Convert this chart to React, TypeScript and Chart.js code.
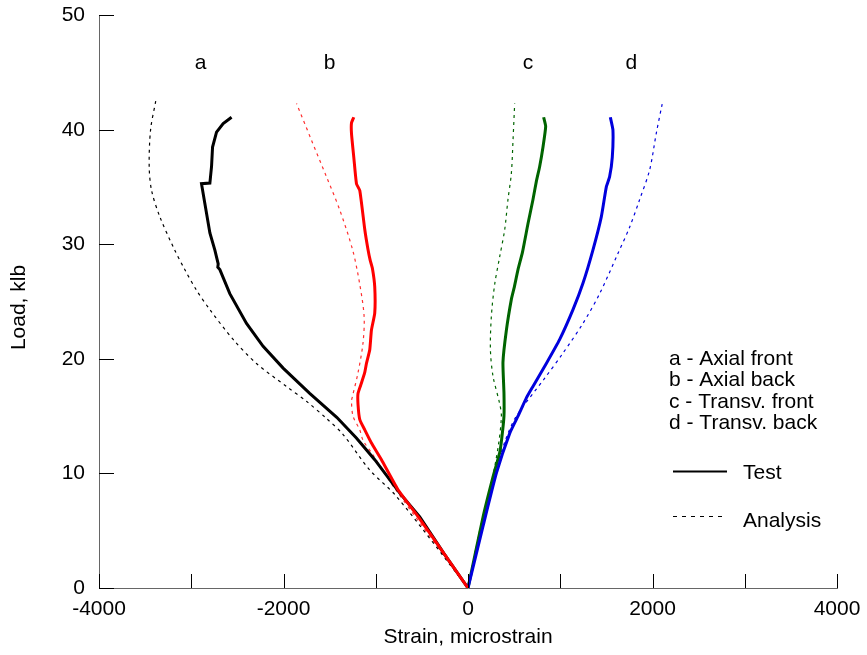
import React, { useEffect, useRef } from 'react';
import { Chart, registerables } from 'chart.js';

Chart.register(...registerables);

// ---- Data (strain in microstrain, load in klb) ----
const aTestX = [0, -260, -523, -741, -1011, -1210, -1423, -1716, -2004, -2221, -2401, -2582, -2690, -2712, -2708, -2744, -2798, -2853, -2889, -2798, -2790, -2780, -2769, -2726, -2654, -2563];
const aTestY = [0, 3.0, 6.2, 8.3, 11.2, 13.1, 14.9, 17.0, 19.2, 21.1, 23.1, 25.7, 27.8, 28.0, 28.3, 29.5, 31.0, 33.6, 35.3, 35.35, 36.0, 36.8, 38.5, 39.8, 40.55, 41.1];

const aAnaX = [0, -776, -1065, -1354, -1534, -1751, -1968, -2293, -2546, -2798, -2943, -3070, -3185, -3340, -3430, -3456, -3441, -3383];
const aAnaY = [0, 8.0, 10.3, 13.4, 14.8, 16.3, 17.6, 19.6, 21.7, 24.3, 26.0, 27.8, 29.6, 32.4, 34.7, 36.8, 40.0, 42.6];

const bTestX = [0, -260, -520, -760, -938, -1050, -1119, -1173, -1192, -1192, -1155, -1120, -1101, -1065, -1047, -1011, -1011, -1036, -1060, -1085, -1119, -1173, -1209, -1238, -1263, -1263, -1238];
const bTestY = [0, 3.0, 6.0, 8.6, 11.2, 12.7, 13.8, 14.7, 16.0, 17.0, 17.9, 18.8, 19.6, 20.8, 22.5, 24.0, 26.3, 27.9, 28.6, 29.6, 31.3, 34.7, 35.3, 37.6, 39.7, 40.6, 41.1];

const bAnaX = [0, -812, -1029, -1138, -1173, -1246, -1263, -1253, -1192, -1138, -1126, -1173, -1250, -1390, -1534, -1697, -1859];
const bAnaY = [0, 8.9, 11.6, 12.9, 13.8, 15.0, 16.3, 16.7, 18.8, 21.4, 23.7, 26.5, 29.5, 33.0, 35.9, 39.1, 42.3];

const cTestX = [0, 163, 271, 343, 365, 390, 390, 379, 416, 470, 500, 542, 590, 650, 704, 741, 777, 813, 842, 820];
const cTestY = [0, 6.2, 9.7, 11.8, 13.0, 15.0, 17.0, 19.7, 22.5, 25.2, 26.2, 27.8, 29.3, 31.8, 33.9, 35.5, 36.8, 38.5, 40.3, 41.1];

const cAnaX = [0, 140, 250, 330, 362, 343, 271, 243, 253, 289, 343, 398, 433, 470, 488, 506];
const cAnaY = [0, 5.5, 9.0, 12.5, 15.0, 16.1, 18.5, 20.8, 23.7, 26.5, 28.9, 31.3, 33.9, 36.2, 39.1, 42.3];

const dTestX = [0, 163, 307, 452, 542, 633, 704, 849, 994, 1138, 1246, 1354, 1445, 1499, 1535, 1564, 1571, 1543];
const dTestY = [0, 5.4, 10.0, 13.5, 15.0, 16.6, 17.6, 19.6, 21.7, 24.3, 26.6, 29.5, 32.4, 35.0, 35.9, 37.6, 40.0, 41.1];

const dAnaX = [0, 91, 271, 410, 524, 830, 1029, 1246, 1427, 1625, 1752, 1860, 1969, 2041, 2106];
const dAnaY = [0, 3.6, 9.5, 13.0, 15.0, 18.3, 20.5, 23.1, 25.7, 29.2, 31.5, 33.9, 36.5, 39.7, 42.3];

const curveLetters = ['a', 'b', 'c', 'd'];
const letterX = [-2900, -1500, 650, 1770];
const letterY = 45.35;

const legendLines = ['a - Axial front', 'b - Axial back', 'c - Transv. front', 'd - Transv. back'];
const styleLabels = ['Test', 'Analysis'];
const xTitle = 'Strain, microstrain';
const yTitle = 'Load, klb';

const xTickMin = -4000;
const xTickMax = 4000;
const yTickMin = 0;
const yTickMax = 50;

const FONT = '"Liberation Sans", Arial, Helvetica, sans-serif';
const FS = 21;

const toPts = (xs: number[], ys: number[]) => xs.map((v, i) => ({ x: v, y: ys[i] }));

const overlay = {
  id: 'overlay',
  afterDraw(chart: any) {
    const { ctx, chartArea, scales } = chart;
    const xs = scales.x;
    const ys = scales.y;
    ctx.save();
    ctx.strokeStyle = '#000';
    ctx.lineWidth = 1;
    ys.ticks.forEach((t: any) => {
      const py = Math.round(ys.getPixelForValue(t.value)) + 0.5;
      ctx.beginPath();
      ctx.moveTo(chartArea.left, py);
      ctx.lineTo(chartArea.left + 15, py);
      ctx.stroke();
    });
    xs.ticks.forEach((t: any) => {
      const px = Math.round(xs.getPixelForValue(t.value)) + 0.5;
      ctx.beginPath();
      ctx.moveTo(px, chartArea.bottom);
      ctx.lineTo(px, chartArea.bottom - 14);
      ctx.stroke();
    });
    ctx.fillStyle = '#000';
    ctx.font = FS + 'px ' + FONT;
    ctx.textAlign = 'center';
    ctx.textBaseline = 'alphabetic';
    curveLetters.forEach((l, i) => {
      ctx.fillText(l, xs.getPixelForValue(letterX[i]), ys.getPixelForValue(letterY));
    });
    // y title
    ctx.save();
    ctx.translate(25, 307.5);
    ctx.rotate(-Math.PI / 2);
    ctx.textAlign = 'center';
    ctx.textBaseline = 'alphabetic';
    ctx.fillText(yTitle, 0, 0);
    ctx.restore();
    // legend
    ctx.textAlign = 'left';
    legendLines.forEach((l, i) => {
      ctx.fillText(l, 669, 365 + i * 21.3);
    });
    ctx.lineWidth = 2;
    ctx.beginPath();
    ctx.moveTo(673, 471.5);
    ctx.lineTo(727, 471.5);
    ctx.stroke();
    ctx.fillText(styleLabels[0], 743, 478.5);
    ctx.lineWidth = 1;
    ctx.setLineDash([4, 5]);
    ctx.beginPath();
    ctx.moveTo(673, 516.5);
    ctx.lineTo(727, 516.5);
    ctx.stroke();
    ctx.setLineDash([]);
    ctx.fillText(styleLabels[1], 743, 526.5);
    ctx.restore();
  },
};

export default function App() {
  const ref = useRef<HTMLCanvasElement | null>(null);
  useEffect(() => {
    if (!ref.current) return;
    Chart.defaults.font.family = FONT;
    Chart.defaults.font.size = FS;
    Chart.defaults.color = '#000';
    const solid = (label: string, xs: number[], ys: number[], color: string, tension = 0.15) => ({
      label,
      data: toPts(xs, ys),
      showLine: true,
      borderColor: color,
      backgroundColor: color,
      borderWidth: 3,
      pointRadius: 0,
      tension,
      fill: false,
    });
    const dashed = (label: string, xs: number[], ys: number[], color: string) => ({
      label,
      data: toPts(xs, ys),
      showLine: true,
      borderColor: color,
      backgroundColor: color,
      borderWidth: 1.2,
      borderDash: [3, 4],
      pointRadius: 0,
      tension: 0.3,
      fill: false,
    });
    const chart = new Chart(ref.current, {
      type: 'scatter',
      data: {
        datasets: [
          solid('b test', bTestX, bTestY, '#ff0000'),
          solid('d test', dTestX, dTestY, '#0000dd'),
          solid('a test', aTestX, aTestY, '#000000', 0),
          solid('c test', cTestX, cTestY, '#006400'),
          dashed('a analysis', aAnaX, aAnaY, '#000000'),
          dashed('b analysis', bAnaX, bAnaY, '#ff3030'),
          dashed('c analysis', cAnaX, cAnaY, '#006400'),
          dashed('d analysis', dAnaX, dAnaY, '#0000dd'),
        ] as any,
      },
      options: {
        animation: false,
        responsive: false,
        maintainAspectRatio: false,
        layout: { padding: { top: 15.3, right: 30, left: 0, bottom: 0 } },
        plugins: { legend: { display: false }, tooltip: { enabled: false } },
        scales: {
          x: {
            type: 'linear',
            min: xTickMin,
            max: xTickMax,
            afterFit: (s: any) => { s.height = 67; },
            ticks: {
              stepSize: 1000,
              padding: 0,
              maxRotation: 0,
              autoSkip: false,
              callback: (v: any) => (Number(v) % 2000 === 0 ? String(v) : ''),
            },
            grid: { display: false, drawTicks: true, tickLength: 9 },
            border: { display: true, color: '#666', width: 1 },
            title: { display: true, text: xTitle, padding: { top: 0, bottom: 5 } },
          },
          y: {
            type: 'linear',
            min: yTickMin,
            max: yTickMax,
            afterFit: (s: any) => { s.width = 99; },
            ticks: { stepSize: 10, padding: 0, autoSkip: false },
            grid: { display: false, drawTicks: true, tickLength: 14 },
            border: { display: true, color: '#666', width: 1 },
            title: { display: false },
          },
        },
      } as any,
      plugins: [overlay],
    });
    return () => chart.destroy();
  }, []);
  return (
    <div style={{ position: 'fixed', left: 0, top: 0, width: 867, height: 655, background: '#fff' }}>
      <canvas ref={ref} width={867} height={655} style={{ width: 867, height: 655, display: 'block' }} />
    </div>
  );
}
